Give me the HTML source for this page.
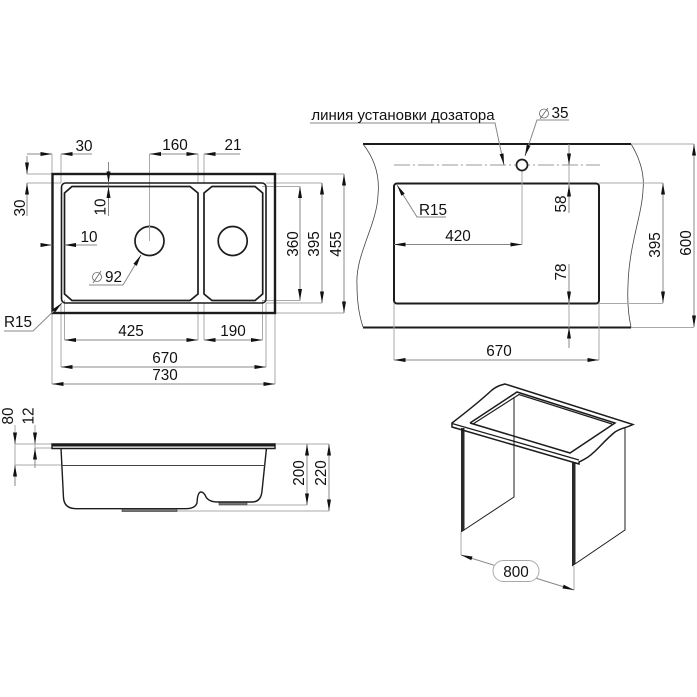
<!DOCTYPE html>
<html><head><meta charset="utf-8"><style>
html,body{margin:0;padding:0;background:#fff}
svg{display:block}
text{font-family:"Liberation Sans",sans-serif;font-size:15.3px;fill:#111;text-anchor:middle}
.e{stroke:#aaa;stroke-width:1;fill:none}
.a{stroke:#888;stroke-width:1;fill:none;marker-end:url(#m)}
.k{stroke:#1c1c1c;fill:none}
</style></head><body>
<svg width="697" height="697" viewBox="0 0 697 697" xmlns="http://www.w3.org/2000/svg">
<defs><marker id="m" markerUnits="userSpaceOnUse" markerWidth="13" markerHeight="8" refX="11.5" refY="4" orient="auto"><path d="M0,2L11.5,4L0,6Z" fill="#111"/></marker></defs>

<!-- top-left plan -->
<path class="e" d="M52,154V174M61,154V183M149.5,154V241M198,154V183M204,154V183"/>
<path class="e" d="M27,174H52M27,183H61"/>
<path class="e" d="M108.5,162V216M41,245H52M275,174H344M266,183H322M262,186.5H300M262,300.5H300M266,303H322M275,313H344"/>
<path class="e" d="M64.5,300V340M198,303V340M204,303V340M262.5,300V340M61,303V367M266,303V367M52,313V384M275,313V384"/>
<rect x="52.5" y="174" width="222.5" height="139" class="k" stroke-width="2.4"/>
<rect x="61.5" y="183" width="204.5" height="120" rx="4" class="k" stroke-width="1.6"/>
<path class="k" stroke-width="1.7" d="M72,186.5H190L198,193V294L190,300.5H72L64.5,294V193Z"/>
<path class="k" stroke-width="1.7" d="M212,186.5H255L262.7,193V294L255,300.5H212L204,294V193Z"/>
<circle cx="149.5" cy="241" r="14.5" class="k" stroke-width="1.7"/>
<circle cx="232.7" cy="241" r="14.5" class="k" stroke-width="1.7"/>
<path class="e" d="M149.5,226V241"/>

<path class="a" d="M27,154H52"/><path class="a" d="M92,154H61"/>
<path class="a" d="M175,154H149.5"/><path class="a" d="M175,154H198"/>
<path class="a" d="M240,154H204"/>
<path class="a" d="M27,156V174"/><path class="a" d="M27,216V183"/>
<path class="a" d="M108.5,162V183"/><path class="a" d="M108.5,216V186.5"/>
<path class="a" d="M41,245H52"/><path class="a" d="M97,245H64.5"/>
<path class="a" d="M300,243V186.5"/><path class="a" d="M300,243V300.5"/>
<path class="a" d="M322,243V183"/><path class="a" d="M322,243V303"/>
<path class="a" d="M344,243V174"/><path class="a" d="M344,243V313"/>
<path class="a" d="M131,340H64.5"/><path class="a" d="M131,340H198"/>
<path class="a" d="M233,340H204"/><path class="a" d="M233,340H262.5"/>
<path class="a" d="M165,367H61"/><path class="a" d="M165,367H266"/>
<path class="a" d="M165,384H52"/><path class="a" d="M165,384H275"/>
<path class="a" d="M89,285H123L141,255"/>
<path class="a" d="M4,331H33L62,303"/>

<text x="84" y="151">30</text><text x="175" y="150">160</text><text x="233" y="150">21</text>
<text transform="translate(25,208) rotate(-90)">30</text>
<text transform="translate(105.500,207) rotate(-90)">10</text>
<text x="89" y="242">10</text>
<text x="105" y="282" style="text-anchor:start">92</text>
<circle cx="97" cy="277" r="4.5" fill="none" stroke="#666" stroke-width=".8"/><path d="M93,283L101,271" stroke="#666" stroke-width=".8"/>
<text x="18" y="327">R15</text>
<text x="131" y="336">425</text><text x="233" y="336">190</text>
<text x="165" y="363">670</text><text x="165" y="380">730</text>
<text transform="translate(298,244) rotate(-90)">360</text>
<text transform="translate(319,244) rotate(-90)">395</text>
<text transform="translate(341,244) rotate(-90)">455</text>

<!-- side view -->
<path class="e" d="M15,444H52M15,465H62M35,448H52M275,444H329M247,505H307M177,511H329M15,425V486M35,425V468M307,444V505M329,444V511"/>
<path d="M52,444H275V448.500H52Z" class="k" stroke-width="1.4"/><path d="M52,445.500H275" class="k" stroke-width="2"/>
<path class="k" stroke-width="1.4" d="M61,448L63.500,498Q64.500,508.700 76,508.700H186Q195,508.700 197,503Q197.500,492 201,492Q204,492 206,497Q209,502 218,502H252Q261,502 262,491L266.500,448"/>
<path stroke="#444" stroke-width="1" fill="none" d="M62,465.500H265"/>
<rect x="122" y="509" width="55" height="2.500" fill="#777" stroke="#333" stroke-width=".6"/>
<rect x="219" y="502.500" width="28" height="2.500" fill="#777" stroke="#333" stroke-width=".6"/>
<path class="a" d="M15,433V444"/><path class="a" d="M15,486V465"/>
<path class="a" d="M35,433V444"/><path class="a" d="M35,468V448"/>
<path class="a" d="M307,473V444"/><path class="a" d="M307,473V505"/>
<path class="a" d="M329,473V444"/><path class="a" d="M329,473V511"/>
<text transform="translate(13,416) rotate(-90)">80</text>
<text transform="translate(33.500,416) rotate(-90)">12</text>
<text transform="translate(304,473) rotate(-90)">200</text>
<text transform="translate(326,473) rotate(-90)">220</text>

<!-- right plan -->
<path class="k" stroke-width="2" d="M363,144H631M363,327.500H631"/>
<path stroke="#444" stroke-width=".8" fill="none" d="M363,144C374,158 380,175 378,195C377,225 355,255 357,285C357,305 360,318 363,327M631,144C638,155 645,172 643,190C642,215 629,245 628,285C627,305 629,318 631,327"/>
<rect x="394" y="183.500" width="205" height="120" rx="3" class="k" stroke-width="2"/>
<path stroke="#999" stroke-width="1" fill="none" stroke-dasharray="16 3 2 3" d="M394,165H600"/>
<path class="e" d="M522,165V244.500M599,183H663M599,303.500H663M631,144H694M631,327.500H694M394,303V360M599,303V360M569,144V213M569,264V348"/>
<circle cx="522" cy="165" r="5.500" fill="#fff" stroke="#1c1c1c" stroke-width="1.7"/>
<path class="a" d="M569,144V165"/><path class="a" d="M569,213V185"/>
<path class="a" d="M569,264V303"/><path class="a" d="M569,348V327"/>
<path class="a" d="M458,244.500H394"/><path class="a" d="M458,244.500H522"/>
<path class="a" d="M663,245V183"/><path class="a" d="M663,245V303"/>
<path class="a" d="M694,243V144"/><path class="a" d="M694,243V327"/>
<path class="a" d="M499,360H394"/><path class="a" d="M499,360H599"/>
<path class="a" d="M446,217H417L397,185"/>
<path class="a" d="M569,120H537L525,156"/>
<path class="a" d="M310,123H495L504,165"/>
<text x="403" y="120" style="font-size:15px">линия установки дозатора</text>
<circle cx="544" cy="113.500" r="4.500" fill="none" stroke="#666" stroke-width=".8"/><path d="M540,119L548,108" stroke="#666" stroke-width=".8"/>
<text x="560" y="118">35</text>
<text x="433" y="215">R15</text><text x="458" y="241">420</text><text x="499" y="356">670</text>
<text transform="translate(566,204) rotate(-90)">58</text>
<text transform="translate(566,272) rotate(-90)">78</text>
<text transform="translate(660,245) rotate(-90)">395</text>
<text transform="translate(691,243) rotate(-90)">600</text>

<!-- iso table -->
<path class="k" stroke-width="1" d="M514,397V497L461,532M625,428V530L572,566"/>
<path d="M461,428H464.500V530L461,532Z" fill="#2a2a2a"/>
<path d="M572,462H575.500V564L572,566Z" fill="#2a2a2a"/>
<path class="k" fill="none" stroke-width="1.5" d="M452,423C465,413 478,403 492,390C497,386 501,385 505,384L633,424.500C626,428 621,428 615,432C605,440 600,447 593,453C588,458 583,460 579,462L579,464L452,427Z"/>
<path class="k" stroke-width="1.3" d="M452,423.500L579,460"/>
<path class="k" stroke-width="1.5" d="M470,423L517,392L615,423L570,453L470,423"/>
<path class="k" stroke-width="1.2" d="M473,424L519,394.500L612,424"/>
<path class="e" d="M461,532V555M574,566V590"/>
<path class="a" d="M516,572L461,555"/><path class="a" d="M516,572L574,590"/>
<rect x="493" y="560.500" width="46" height="21" rx="10.500" fill="#fff" stroke="#aaa"/>
<text x="516" y="577">800</text>
</svg>
</body></html>
